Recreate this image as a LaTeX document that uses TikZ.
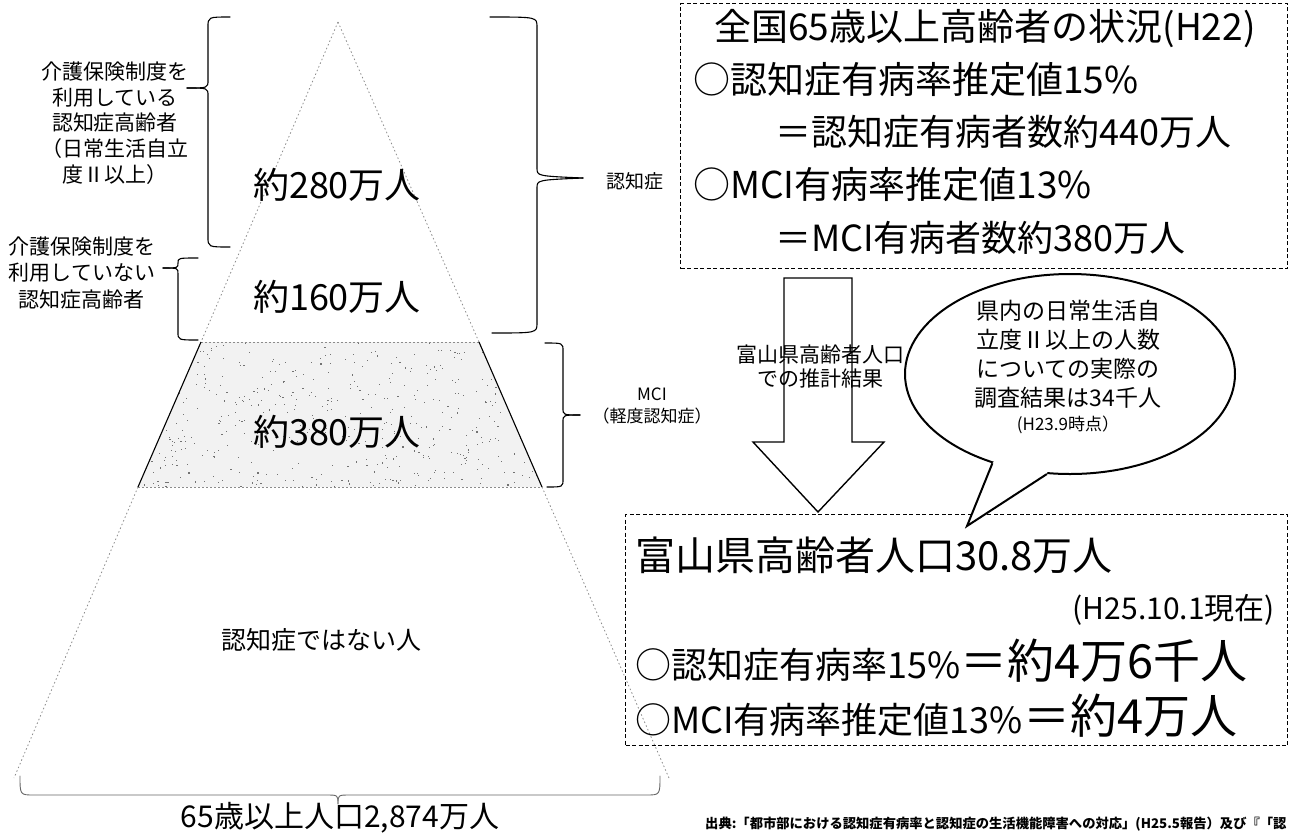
\documentclass[tikz,border=0pt]{standalone}
\usepackage{fontspec}
\setmainfont{Noto Sans CJK JP}
\usetikzlibrary{shapes.geometric}
\newcommand\fsz[2]{\fontsize{#1}{#2}\selectfont}
\begin{document}
\begin{tikzpicture}[x=1pt,y=-1pt,
  brace/.style={line width=1.1pt, black, line cap=round},
  faint/.style={line width=0.8pt, black!45, dash pattern=on 1.5pt off 2.5pt},
  trapedge/.style={line width=1.1pt, black},
  dbox/.style={draw, line width=1.3pt, dash pattern=on 4pt off 2.5pt, inner sep=0pt, anchor=north west},
  txt/.style={inner sep=0pt, text=black},
  bigarrow/.style={draw, line width=1.4pt, fill=white, line join=miter},
  bubble/.style={draw, line width=2pt, ellipse, inner sep=0pt, fill=white}]
\useasboundingbox (0,0) rectangle (1291,836);

% ---------- pyramid ----------
\coordinate (apex) at (338,22);
\coordinate (tl) at (201,342);
\coordinate (tr) at (479,342);
\coordinate (bl) at (138,487);
\coordinate (br) at (542,487);
\coordinate (bbl) at (14,778);
\coordinate (bbr) at (669,778);

\begin{scope}
  \clip (tl) -- (tr) -- (br) -- (bl) -- cycle;
  \fill[black!5] (130,340) rectangle (550,490);
  \pgfmathsetseed{42}
  \foreach \i in {1,...,520} {\fill[black!55] ({138+404*rnd},{342+145*rnd}) rectangle ++(1.1,1.1);}
\end{scope}

\draw[faint] (apex) -- (tl);
\draw[faint] (apex) -- (tr);
\draw[faint] (tl) -- (tr);
\draw[faint] (bl) -- (br);
\draw[faint] (bl) -- (bbl);
\draw[faint] (br) -- (bbr);
\draw[trapedge] (tl) -- (bl);
\draw[trapedge] (tr) -- (br);

\node[txt, font=\fsz{36}{40}] (n280) at (337,185) {約280万人};
\node[txt, font=\fsz{36}{40}] (n160) at (337,297) {約160万人};
\node[txt, font=\fsz{36}{40}] (n380) at (337,432) {約380万人};
\node[txt, font=\fsz{25}{30}] (nnot) at (321,640) {認知症ではない人};

% ---------- braces ----------
% left brace 1 (tip to the left)
\draw[brace] (230,17) .. controls (208,17) and (208,17) .. (208,27) -- (208,80) .. controls (208,88) .. (187,88);
\draw[brace] (187,88) .. controls (208,88) .. (208,96) -- (208,237) .. controls (208,247) and (208,247) .. (230,247);
% left brace 2
\draw[brace] (198,258) .. controls (178,258) .. (178,263) .. controls (178,268) .. (163,268);
\draw[brace] (163,268) .. controls (178,268) .. (178,274) -- (178,332) .. controls (178,340) .. (198,340);
% right brace 3 (dementia)
\draw[brace] (490,17) .. controls (537,17) .. (537,27) -- (537,168) .. controls (537,176) .. (583,178);
\draw[brace] (583,178) .. controls (537,180) .. (537,188) -- (537,323) .. controls (537,333) .. (492,333);
% right brace 4 (MCI)
\draw[brace] (545,343) .. controls (563,343) .. (563,351) -- (563,408) .. controls (563,415) .. (580,415);
\draw[brace] (580,415) .. controls (563,415) .. (563,422) -- (563,479) .. controls (563,487) .. (547,487);
% bottom brace
\draw[brace, black!60, line width=0.9pt] (20,776) .. controls (20,795) .. (34,795) -- (326,795) .. controls (338,795) .. (338,804);
\draw[brace, black!60, line width=0.9pt] (338,804) .. controls (338,795) .. (350,795) -- (646,795) .. controls (660,795) .. (660,776);

% ---------- left labels ----------
\node[txt, align=center, font=\fsz{21}{25.6}] (lab1) at (115,123)
  {介護保険制度を\\利用している\\認知症高齢者\\（日常生活自立\\度Ⅱ以上）};
\node[txt, align=center, font=\fsz{21}{26.5}] (lab2) at (82,273)
  {介護保険制度を\\利用していない\\認知症高齢者};
\node[txt, font=\fsz{19}{22}] (labdem) at (635,181) {認知症};
\node[txt, align=center, font=\fsz{17}{22}] (labmci) at (652,406) {MCI\\（軽度認知症）};

% ---------- bottom total ----------
\node[txt, font=\fsz{30}{34}] (total) at (340,818) {65歳以上人口2,874万人};
\node[txt, anchor=base west, font=\fsz{13.3}{16}\bfseries] (src) at (705,828)
  {出典:「都市部における認知症有病率と認知症の生活機能障害への対応」(H25.5報告）及び『「認};

% ---------- top box ----------
\node[dbox, minimum width=607, minimum height=265] (box1) at (680,3) {};
\node[txt, anchor=base, font=\fsz{37}{42}] (t1) at (985,40) {全国65歳以上高齢者の状況(H22)};
\node[txt, anchor=base west, font=\fsz{37}{40}] (t2) at (693,93) {○認知症有病率推定値15\%};
\node[txt, anchor=base west, font=\fsz{36}{40}] (t3) at (775,145) {＝認知症有病者数約440万人};
\node[txt, anchor=base west, font=\fsz{37}{40}] (t4) at (693,198) {○MCI有病率推定値13\%};
\node[txt, anchor=base west, font=\fsz{36}{40}] (t5) at (775,251) {＝MCI有病者数約380万人};

% ---------- big arrow ----------
\coordinate (a1) at (784,278);
\coordinate (a2) at (784,442);
\coordinate (a3) at (753,442);
\coordinate (a4) at (818,512);
\coordinate (a5) at (884,442);
\coordinate (a6) at (852,442);
\coordinate (a7) at (852,278);
\draw[bigarrow] (a1) -- (a2) -- (a3) -- (a4) -- (a5) -- (a6) -- (a7) -- cycle;
\node[txt, align=center, font=\fsz{21}{24}] (arrtxt) at (820,367) {富山県高齢者人口\\での推計結果};

% ---------- bottom box ----------
\node[dbox, minimum width=662, minimum height=231] (box2) at (625,514) {};
\node[txt, anchor=base west, font=\fsz{40}{44}] (b1) at (635,570) {富山県高齢者人口30.8万人};
\node[txt, anchor=base east, font=\fsz{30}{34}] (b2) at (1275,619) {(H25.10.1現在)};
\node[txt, anchor=base west, font=\fsz{36}{40}] (b3) at (635,678) {○認知症有病率15\%{\fsz{47}{50}＝約4万6千人}};
\node[txt, anchor=base west, font=\fsz{36}{40}] (b4) at (635,733) {○MCI有病率推定値13\%{\fsz{47}{50}＝約4万人}};

% ---------- speech bubble ----------
\node[bubble, minimum width=330, minimum height=200] (bub) at (1070,374) {};
\coordinate (tip) at (967,526);
\fill[white] (bub.center) -- (bub.229) -- (tip) -- (bub.257) -- cycle;
\draw[line width=2pt, line join=miter] (bub.229) -- (tip) -- (bub.257);
\node[txt, align=center, font=\fsz{23}{29}] (bubtxt) at (1068,354)
  {県内の日常生活自\\立度Ⅱ以上の人数\\についての実際の\\調査結果は34千人};
\node[txt, font=\fsz{17}{20}] (bubdate) at (1068,425) {(H23.9時点）};
\end{tikzpicture}
\end{document}
